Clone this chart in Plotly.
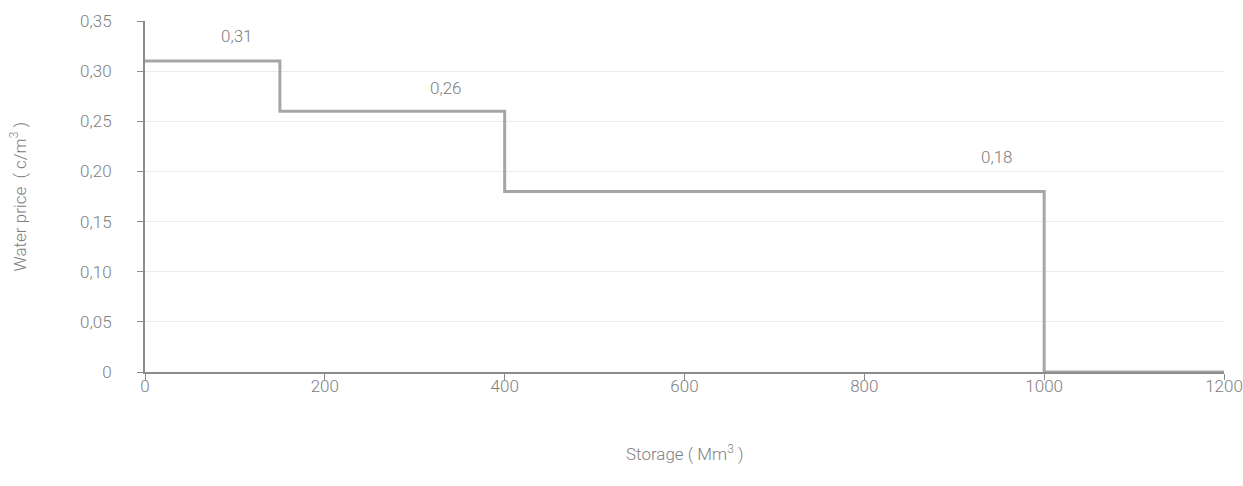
import plotly.graph_objects as go

storage = [0, 150, 400, 1000, 1200]
price = [0.31, 0.26, 0.18, 0.0, 0.0]
label_text = ["0,31", "0,26", "0,18"]
label_x = [102, 335, 947]
label_y = [0.335, 0.283, 0.214]
x_ticks = [0, 200, 400, 600, 800, 1000, 1200]
y_ticks = [0, 0.05, 0.1, 0.15, 0.2, 0.25, 0.3, 0.35]
y_ticktext = ["0", "0,05", "0,10", "0,15", "0,20", "0,25", "0,30", "0,35"]

FONT = "Roboto, sans-serif"
GREY = "#808080"
SIZE = 17
WEIGHT = 300

def f():
    return dict(family=FONT, size=SIZE, color=GREY, weight=WEIGHT)

fig = go.Figure()
fig.add_trace(go.Scatter(x=storage, y=price, mode="lines", line_shape="hv",
                         line=dict(color="#a6a6a6", width=3), showlegend=False,
                         hoverinfo="skip"))
for t, x, y in zip(label_text, label_x, label_y):
    fig.add_annotation(x=x, y=y, text=t, showarrow=False, font=f())

fig.add_annotation(xref="paper", yref="paper", x=-0.1177, y=0.5, textangle=-90,
                   text="Water price  ( c/m<sup>3</sup> )", showarrow=False,
                   xanchor="center", yanchor="middle", font=f())
fig.add_annotation(xref="paper", yref="paper", x=0.5, y=-0.2308,
                   text="Storage ( Mm<sup>3</sup> )", showarrow=False,
                   xanchor="center", yanchor="middle", font=f())

fig.update_layout(
    width=1243, height=486,
    margin=dict(l=145, r=19, t=21, b=114, autoexpand=False),
    paper_bgcolor="white", plot_bgcolor="white",
    separators=", ",
    font=f(),
)
fig.update_xaxes(range=[0, 1200], tickvals=x_ticks, automargin=False,
                 showgrid=False, zeroline=False, showline=True, linecolor="#8c8c8c",
                 linewidth=2, ticks="outside", ticklen=6, tickcolor="#8c8c8c",
                 ticklabelstandoff=-8, ticklabeloverflow="allow", tickfont=f())
fig.update_yaxes(range=[0, 0.35], tickvals=y_ticks, ticktext=y_ticktext, automargin=False,
                 showgrid=True, gridcolor="#ebebeb", gridwidth=1, zeroline=False,
                 showline=True, linecolor="#8c8c8c", linewidth=2,
                 ticks="outside", ticklen=6, tickcolor="#8c8c8c",
                 ticklabelstandoff=22, ticklabeloverflow="allow", tickfont=f())

fig.write_html("out.html", config={"displayModeBar": False},
               post_script="document.body.style.margin='0px';")
